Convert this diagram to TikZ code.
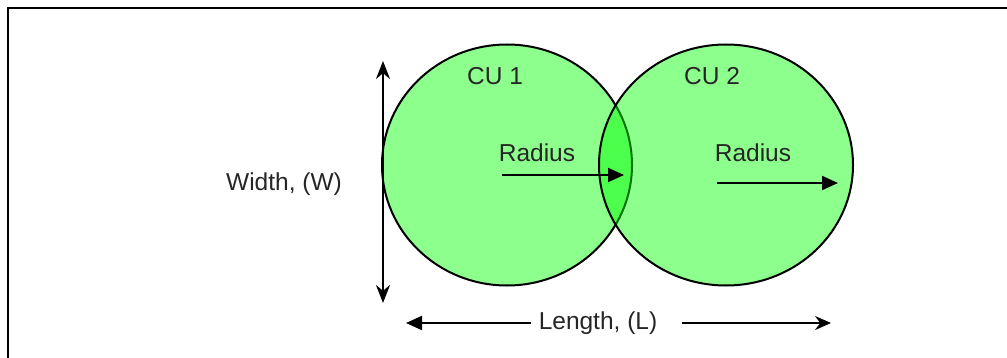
\documentclass[tikz,border=0pt]{standalone}
\usepackage{fontspec}
\setmainfont{Liberation Sans}
\usetikzlibrary{arrows.meta}
\begin{document}
\begin{tikzpicture}[x=1pt,y=-1pt,
  cu/.style={draw=black,line width=2pt,fill=green,fill opacity=0.45,draw opacity=1},
  lbl/.style={font=\fontsize{24.5}{26}\selectfont,text=black!85,inner sep=0pt},
  arr/.style={line width=2pt,-{Triangle[length=16pt,width=14pt]}},
  dbl/.style={line width=2pt,{Stealth[length=18pt,width=14pt]}-{Stealth[length=18pt,width=14pt]}},
  thinarr/.style={line width=1.8pt,-{Stealth[length=16pt,width=14pt]}}]
\useasboundingbox (0,0) rectangle (1007,358);
% frame (top and left edges only)
\draw[line width=2.2pt] (8,358) -- (8,8) -- (1007,8);
% circles
\draw[cu] (507,165) ellipse [x radius=125, y radius=120.5];
\draw[cu] (726,165) ellipse [x radius=127, y radius=120.5];
% labels
\node[lbl] (cu1) at (495,76) {CU 1};
\node[lbl] (cu2) at (712,76) {CU 2};
\node[lbl] (r1) at (537,153) {Radius};
\node[lbl] (r2) at (753,153) {Radius};
\node[lbl] (w) at (284,184) {Width, (W)};
\node[lbl] (len) at (598,323) {Length, (L)};
% coordinates for arrows
\coordinate (r1s) at (502,175);
\coordinate (r1e) at (624,175);
\coordinate (r2s) at (717,183);
\coordinate (r2e) at (838,183);
\coordinate (wt) at (383,61);
\coordinate (wb) at (383,303);
\coordinate (ll) at (406,323);
\coordinate (lr) at (831,323);
% arrows
\draw[arr] (r1s) -- (r1e);
\draw[arr] (r2s) -- (r2e);
\draw[dbl] (wt) -- (wb);
\draw[arr] (len.west) ++(-8,0) -- (ll);
\draw[thinarr] (len.east) ++(25,0) -- (lr);
\end{tikzpicture}
\end{document}
